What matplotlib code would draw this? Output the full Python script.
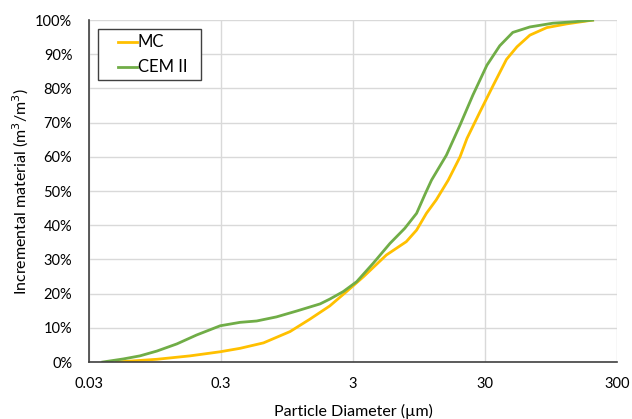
import matplotlib.pyplot as plt
from matplotlib.lines import Line2D
from matplotlib.patches import Rectangle
from matplotlib.ticker import FixedLocator, NullLocator, PercentFormatter

plt.rcParams['font.family'] = ['Lato', 'DejaVu Sans']

# ========== Data ==========
mc_diam = [0.0486, 0.098, 0.175, 0.296, 0.418, 0.63, 1.0, 1.41, 2.0, 2.68, 3.59,
           5.37, 7.6, 9.1, 10.8, 12.8, 15.8, 19.4, 21.9, 27.5, 34.7, 43.6, 52.4,
           65.6, 88, 125, 196]
mc_frac = [0.0, 0.8, 1.8, 3.0, 4.0, 5.6, 8.9, 12.5, 16.4, 20.6, 24.9,
           31.3, 35.2, 38.6, 43.5, 47.4, 53.2, 60.0, 65.4, 73.2, 81.0, 88.5, 92.2,
           95.6, 97.8, 98.9, 100.0]

cem_diam = [0.0382, 0.0546, 0.073, 0.098, 0.139, 0.196, 0.296, 0.418, 0.559, 0.79,
            1.12, 1.69, 2.0, 2.53, 3.2, 4.27, 5.72, 7.4, 9.1, 10.6, 11.8, 15.3,
            19.4, 24.3, 31.0, 38.8, 48.7, 65.6, 98, 140, 196]
cem_frac = [0.0, 0.9, 1.8, 3.2, 5.3, 7.9, 10.6, 11.6, 12.0, 13.2,
            14.9, 17.0, 18.4, 20.6, 23.5, 28.9, 34.7, 39.1, 43.5, 49.3, 53.2, 60.5,
            69.3, 78.1, 86.8, 92.5, 96.4, 98.0, 99.1, 99.5, 100.0]

series_names = ['MC', 'CEM II']
series_colors = ['#FFC000', '#70AD47']

x_ticks = [0.03, 0.3, 3, 30, 300]
x_tick_labels = ['0.03', '0.3', '3', '30', '300']

# ========== Plot ==========
fig = plt.figure(figsize=(6.32, 4.19), dpi=100)
ax = fig.add_axes([0.1408, 0.136, 0.8355, 0.816])

ax.plot(mc_diam, mc_frac, color=series_colors[0], lw=2.0)
ax.plot(cem_diam, cem_frac, color=series_colors[1], lw=2.0)

ax.set_xscale('log')
ax.set_xlim(0.03, 300)
ax.set_ylim(0, 100)
ax.xaxis.set_major_locator(FixedLocator(x_ticks))
ax.xaxis.set_minor_locator(NullLocator())
ax.set_xticklabels(x_tick_labels)
ax.set_yticks(range(0, 101, 10))
ax.yaxis.set_major_formatter(PercentFormatter(decimals=0))

ax.grid(True, color='#D9D9D9', lw=1.0)
ax.set_axisbelow(True)
for side in ['top', 'right']:
    ax.spines[side].set_visible(False)
for side in ['left', 'bottom']:
    ax.spines[side].set_color('#404040')
    ax.spines[side].set_linewidth(1.2)

ax.tick_params(length=0, labelsize=10.5, colors='#000000')
ax.tick_params(axis='x', pad=11)
ax.tick_params(axis='y', pad=12)
ax.set_xlabel('Particle Diameter (µm)', fontsize=11.5, labelpad=9)
ax.set_ylabel('Incremental material (m$^3$/m$^3$)', fontsize=11.5, labelpad=3)

# Legend box drawn by hand so the padding is wider than tall
ax.add_patch(Rectangle((0.017, 0.8246), 0.195, 0.1491, transform=ax.transAxes,
                       facecolor='white', edgecolor='#404040', lw=1.0, zorder=5))
for i, (name, color) in enumerate(zip(series_names, series_colors)):
    y = 0.9357 - i * 0.0731
    ax.add_line(Line2D([0.0549, 0.0909], [y, y], transform=ax.transAxes,
                       color=color, lw=2.0, zorder=6))
    ax.text(0.0928, y, name, transform=ax.transAxes, fontsize=12,
            va='center', ha='left', zorder=6)

fig.savefig('out.png', dpi=100)
